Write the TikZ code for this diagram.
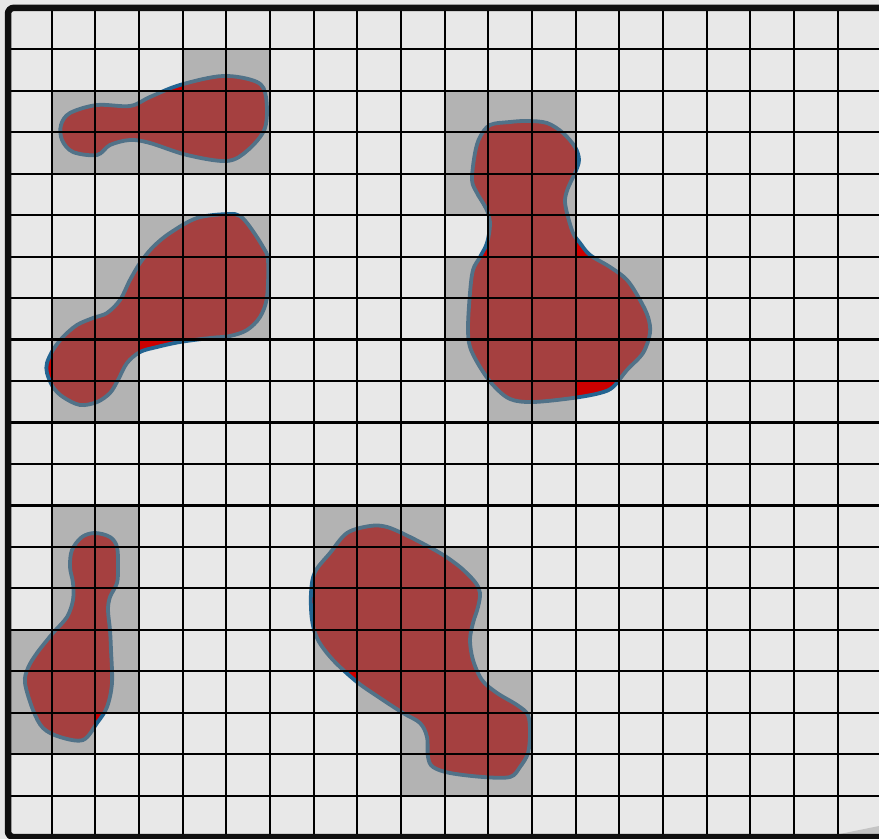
\documentclass[tikz,border=0pt]{standalone}
\usepackage{tikz}
\definecolor{cellbg}{RGB}{232,232,232}
\definecolor{occgray}{RGB}{128,128,128}
\definecolor{blobred}{RGB}{204,0,0}
\definecolor{blobedge}{RGB}{35,100,145}
\definecolor{framegray}{RGB}{15,15,15}
\definecolor{wedgegray}{RGB}{196,196,196}

\begin{document}
\begin{tikzpicture}[x=0.5pt, y=-0.5pt,
  blob/.style={fill=blobred, draw=blobedge, line width=1.9pt},
  occ/.style={fill=occgray, fill opacity=0.5},
  gridline/.style={draw=black, line width=1.1pt},
  frame/.style={draw=framegray, line width=3.25pt, rounded corners=3pt}
]
  \clip (0,0) rectangle (879,839);
  \fill[cellbg] (0,0) rectangle (879,839);

  % blobs
  \draw[blob] plot[smooth cycle, tension=0.55] coordinates {
    (61,125) (70,113) (97,105) (130,106) (150,97) (180,85) (223,76) (257,82)
    (266,97) (265,128) (248,150) (227,161) (187,155) (150,143) (130,140)
    (110,145) (97,155) (73,152) (62,140)};
  \draw[blob] plot[smooth cycle, tension=0.55] coordinates {
    (228,214) (197,218) (170,233) (153,247) (140,263) (130,280) (120,300)
    (107,313) (93,318) (77,325) (63,337) (53,350) (47,363) (47,373) (53,387)
    (63,397) (80,405) (97,402) (110,393) (118,380) (127,363) (140,352)
    (157,347) (180,342) (210,338) (230,336) (247,330) (260,317) (267,297)
    (268,260) (263,247) (250,227) (240,216)};
  \draw[blob] plot[smooth cycle, tension=0.55] coordinates {
    (510,122) (527,121) (547,123) (563,133) (575,147) (579,160) (575,173)
    (568,188) (565,200) (567,213) (573,233) (580,243) (590,255) (610,267)
    (627,280) (640,300) (648,317) (650,333) (643,353) (627,370) (613,387)
    (600,393) (573,398) (533,402) (510,399) (493,385) (480,367) (470,347)
    (468,327) (470,293) (473,270) (480,257) (487,243) (490,225) (488,213)
    (483,203) (477,193) (472,180) (475,153) (480,137) (490,125)};
  \draw[blob] plot[smooth cycle, tension=0.55] coordinates {
    (95,533) (110,537) (117,547) (118,567) (117,583) (110,597) (108,610)
    (110,630) (111,650) (112,683) (107,707) (97,723) (83,740) (60,737)
    (43,728) (33,710) (25,683) (28,668) (37,653) (53,633) (67,617) (73,600)
    (73,583) (70,567) (72,550) (82,537)};
  \draw[blob] plot[smooth cycle, tension=0.55] coordinates {
    (370,526) (347,533) (330,553) (315,572) (311,593) (312,620) (318,640)
    (333,660) (357,682) (380,698) (403,713) (420,723) (427,737) (428,757)
    (433,767) (450,773) (483,777) (510,777) (520,767) (528,753) (530,733)
    (528,715) (517,705) (497,693) (482,680) (473,660) (470,640) (473,623)
    (478,607) (480,593) (475,582) (460,567) (440,553) (410,537) (387,527)};

  % occupied cells
  \foreach \r/\cs in {1/{4,5}, 2/{1,2,3,4,5,10,11,12}, 3/{1,2,3,4,5,10,11,12},
      4/{10,11,12}, 5/{3,4,5,11,12}, 6/{2,3,4,5,10,11,12,13,14},
      7/{1,2,3,4,5,10,11,12,13,14}, 8/{1,2,10,11,12,13,14}, 9/{1,2,11,12},
      12/{1,2,7,8,9}, 13/{1,2,7,8,9,10}, 14/{1,2,7,8,9,10},
      15/{0,1,2,7,8,9,10}, 16/{0,1,2,8,9,10,11}, 17/{0,1,9,10,11},
      18/{9,10,11}}
    \foreach \c in \cs
      \fill[occ] ({8+43.67*\c},{7.8+41.47*\r}) rectangle +(43.67,41.47);

  \fill[wedgegray] (830,836) -- (879,826) -- (879,837) -- cycle;

  % grid
  \foreach \i in {1,...,20}
    \draw[gridline] ({8+43.67*\i},7.8) -- ({8+43.67*\i},837.2);
  \foreach \j in {1,...,19}
    \draw[gridline] (8,{7.8+41.47*\j}) -- (900,{7.8+41.47*\j});

  \draw[frame] (8,7.8) rectangle (910,837.2);
\end{tikzpicture}
\end{document}
